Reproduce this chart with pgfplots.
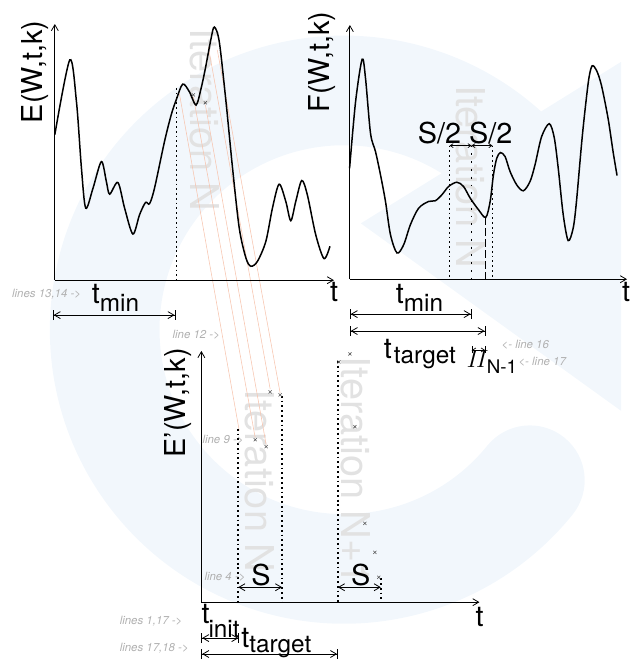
\documentclass[border=0pt]{standalone}
\usepackage{pgfplots}
\pgfplotsset{compat=1.18}
\usepackage{amsmath}
\usepackage{fontspec}
\setmainfont{TeX Gyre Heros}
\usetikzlibrary{arrows.meta}
\definecolor{wmblue}{HTML}{F2F7FC}
\definecolor{wmgray}{HTML}{E2E2E2}
\definecolor{notegray}{HTML}{B0B0B0}
\definecolor{traceorange}{HTML}{F7C4AE}
\definecolor{markgray}{HTML}{555555}

\begin{document}
\begin{tikzpicture}[
  big/.style={font=\fontsize{29}{33}\selectfont, inner sep=0pt, anchor=base west},
  sub/.style={font=\fontsize{24.5}{28}\selectfont, inner sep=0pt, anchor=base west},
  note/.style={font=\fontsize{11.5}{13}\selectfont\itshape, text=notegray, inner sep=0pt, anchor=base west},
  wm/.style={font=\fontsize{40}{44}\selectfont, text=wmgray, rotate=-90, inner sep=0pt},
]
\begin{axis}[
  width=637bp, height=659bp, scale only axis,
  xmin=0, xmax=637, ymin=0, ymax=659, y dir=reverse,
  hide axis, clip=false,
  axisline/.style={black, line width=0.8bp, no markers, -{Straight Barb[length=6bp,width=7bp]}},
  curve/.style={black, line width=1.5bp, smooth, no markers},
  dotline/.style={black, line width=1.6bp, dash pattern=on 1.8bp off 3bp, no markers},
  dim/.style={black, line width=0.8bp, no markers, {Bar[width=10bp]Straight Barb[length=6bp,width=7bp]}-{Straight Barb[length=6bp,width=7bp]Bar[width=10bp]}},
  sarrow/.style={black, line width=0.8bp, no markers, {Straight Barb[length=6bp,width=7bp]}-{Straight Barb[length=6bp,width=7bp]}},
  tinyarr/.style={black, line width=0.7bp, no markers, {Straight Barb[length=3bp,width=4bp]}-{Straight Barb[length=3bp,width=4bp]}},
  traceline/.style={color=traceorange, line width=0.55bp, no markers},
  xmk/.style={only marks, mark=x, mark size=2.2bp, color=markgray, mark options={line width=0.55bp}},
]
% frame of the page
\path (axis cs:0,0) rectangle (axis cs:637,659);

% watermark
\fill[wmblue] (axis cs:571,139) arc[start angle=40, end angle=321, radius=295bp]
  arc[start angle=321, end angle=501, radius=55bp]
  arc[start angle=321, end angle=40, radius=185bp] -- cycle;
\fill[wmblue] (axis cs:362,222) -- (axis cs:623,60) -- (axis cs:623,410) -- cycle;
\node[wm] at (axis cs:205,118) {Iteration N};
\node[wm] at (axis cs:472,175) {Iteration N};
\node[wm] at (axis cs:261,480) {Iteration N};
\node[wm] at (axis cs:357,470) {Iteration N+1};

% traces from E to E'
\addplot[traceline] coordinates {(180,92) (240,430)};
\addplot[traceline] coordinates {(194,95) (256,437)};
\addplot[traceline] coordinates {(206,103) (267,444)};
\addplot[traceline] coordinates {(209,45) (271,388)};
\addplot[traceline] coordinates {(218,48) (281,392)};

% ---- E(W,t,k)
\addplot[axisline] coordinates {(55,279) (55,22)};
\addplot[axisline] coordinates {(55,279) (335,279)};
\addplot[curve] coordinates {
(55,133) (70,58) (76.7,100) (81.7,166.7) (86,206.7) (93.3,186.7) (101.7,160)
(106.7,180) (110,192.7) (118.3,181) (125,206.7) (133.3,232.7) (140,213.3)
(146,201) (150,202.3) (155,186.7) (165,140) (171.7,113.3) (176.7,98.3)
(183.3,82.3) (190,90) (196.7,103.3) (201.7,86.7) (206,66.7) (211.7,36.7)
(215,25) (220,40) (226.7,100) (233.3,166.7) (240,226.7) (246.7,256.7)
(251.7,265) (258.3,260) (266.7,240) (273.3,206.7) (280,182.7) (286.7,200)
(291.7,219.3) (296.7,200) (302.7,179) (308.3,193.3) (316.7,233.3) (325,257.3)
(331,245)};
\addplot[dotline] coordinates {(177,86) (177,279)};
\addplot[xmk] coordinates {(194,93) (206,101)};
\addplot[dim] coordinates {(53,314) (176,314)};
\node[big, rotate=90, anchor=center] at (axis cs:35,70) {E(W,t,k)};
\node[big] at (axis cs:331,300) {t};
\node[big] at (axis cs:92,302) {t};
\node[sub] at (axis cs:100,310) {min};
\node[note] at (axis cs:12,296) {lines 13,14 ->};

% ---- F(W,t,k)
\addplot[axisline] coordinates {(351,278) (351,23)};
\addplot[axisline] coordinates {(351,278) (629,278)};
\addplot[curve] coordinates {
(350.7,166.7) (356.7,100) (363.3,57.3) (366.7,76.7) (371.7,131.7) (376.7,150)
(381.7,173.3) (386.7,200) (391.7,233.3) (398.3,251.7) (405,243.3) (411.7,223.3)
(420,206.7) (430,200) (436.7,199.3) (443.3,193.3) (450,185) (458.3,180.7)
(465,185) (471.7,196.7) (480,208.3) (487.3,216) (491.7,200) (495,173.3)
(498.3,156.7) (502,151) (506.7,155) (511.7,170) (518.3,183.3) (525,189.3)
(531.7,180) (536.7,163.3) (543.3,135) (551,122) (556,136) (560,166.7)
(565,213.3) (570,239.3) (575,226.7) (578.3,200) (583.3,143.3) (586.7,110)
(590.7,76.7) (594,64) (598.3,68.3) (603.3,83.3) (610,116.7) (615,150) (619,174)};
\addplot[dotline] coordinates {(451,144) (451,278)};
\addplot[black, line width=1.6bp, dash pattern=on 1.8bp off 6bp, no markers] coordinates {(473,144) (473,278)};
\addplot[black, line width=1.3bp, dash pattern=on 8bp off 3bp, no markers] coordinates {(487,216) (487,278)};
\addplot[dotline] coordinates {(494,144) (494,278)};
\addplot[tinyarr] coordinates {(451,144) (473,144)};
\addplot[tinyarr] coordinates {(473,144) (494,144)};
\addplot[dim] coordinates {(351,313) (473,313)};
\addplot[dim] coordinates {(351,330) (487,330)};
\addplot[black, line width=0.7bp, no markers, {Bar[width=7bp]Straight Barb[length=3bp,width=4bp]}-{Straight Barb[length=3bp,width=4bp]Bar[width=7bp]}] coordinates {(473,349) (487,349)};
\node[big, rotate=90, anchor=center] at (axis cs:323,60) {F(W,t,k)};
\node[big] at (axis cs:624,300) {t};
\node[big] at (axis cs:419,142) {S/2 S/2};
\node[big] at (axis cs:397,302) {t};
\node[sub] at (axis cs:405,310) {min};
\node[big] at (axis cs:385,358) {t};
\node[sub] at (axis cs:395,363) {target};
\node[anchor=base west, inner sep=0pt, font=\fontsize{27}{30}\selectfont] at (axis cs:468,367) {$\varPi_{\mathrm{N\text{-}1}}$};
\node[note] at (axis cs:503,348) {<- line 16};
\node[note] at (axis cs:520,365) {<- line 17};

% ---- E'(W,t,k)
\addplot[axisline] coordinates {(202,602) (202,350)};
\addplot[axisline] coordinates {(202,602) (481,602)};
\addplot[dotline] coordinates {(239,428) (239,602)};
\addplot[dotline] coordinates {(283,395) (283,602)};
\addplot[dotline] coordinates {(339,360) (339,602)};
\addplot[dotline] coordinates {(382,578) (382,602)};
\addplot[xmk] coordinates {(271,391) (281,394) (256,439) (267,446) (340,361)
  (351,353) (356,426) (366,523) (376,552) (380,577)};
\addplot[sarrow] coordinates {(239,587) (283,587)};
\addplot[sarrow] coordinates {(339,587) (382,587)};
\addplot[dim] coordinates {(202,638) (240,638)};
\addplot[dim] coordinates {(202,654) (339,654)};
\node[big, rotate=90, anchor=center] at (axis cs:179,402) {E'(W,t,k)};
\node[big] at (axis cs:477,626) {t};
\node[big] at (axis cs:252,585) {S};
\node[big] at (axis cs:352,585) {S};
\node[big] at (axis cs:202,623) {t};
\node[sub] at (axis cs:209,637) {init};
\node[big] at (axis cs:242,647) {t};
\node[sub] at (axis cs:250,652) {target};
\node[note] at (axis cs:173,337) {line 12 ->};
\node[note] at (axis cs:203,443) {line 9 ->};
\node[note] at (axis cs:205,580) {line 4 ->};
\node[note] at (axis cs:120,624) {lines 1,17 ->};
\node[note] at (axis cs:120,651) {lines 17,18 ->};
\end{axis}
\end{tikzpicture}
\end{document}
